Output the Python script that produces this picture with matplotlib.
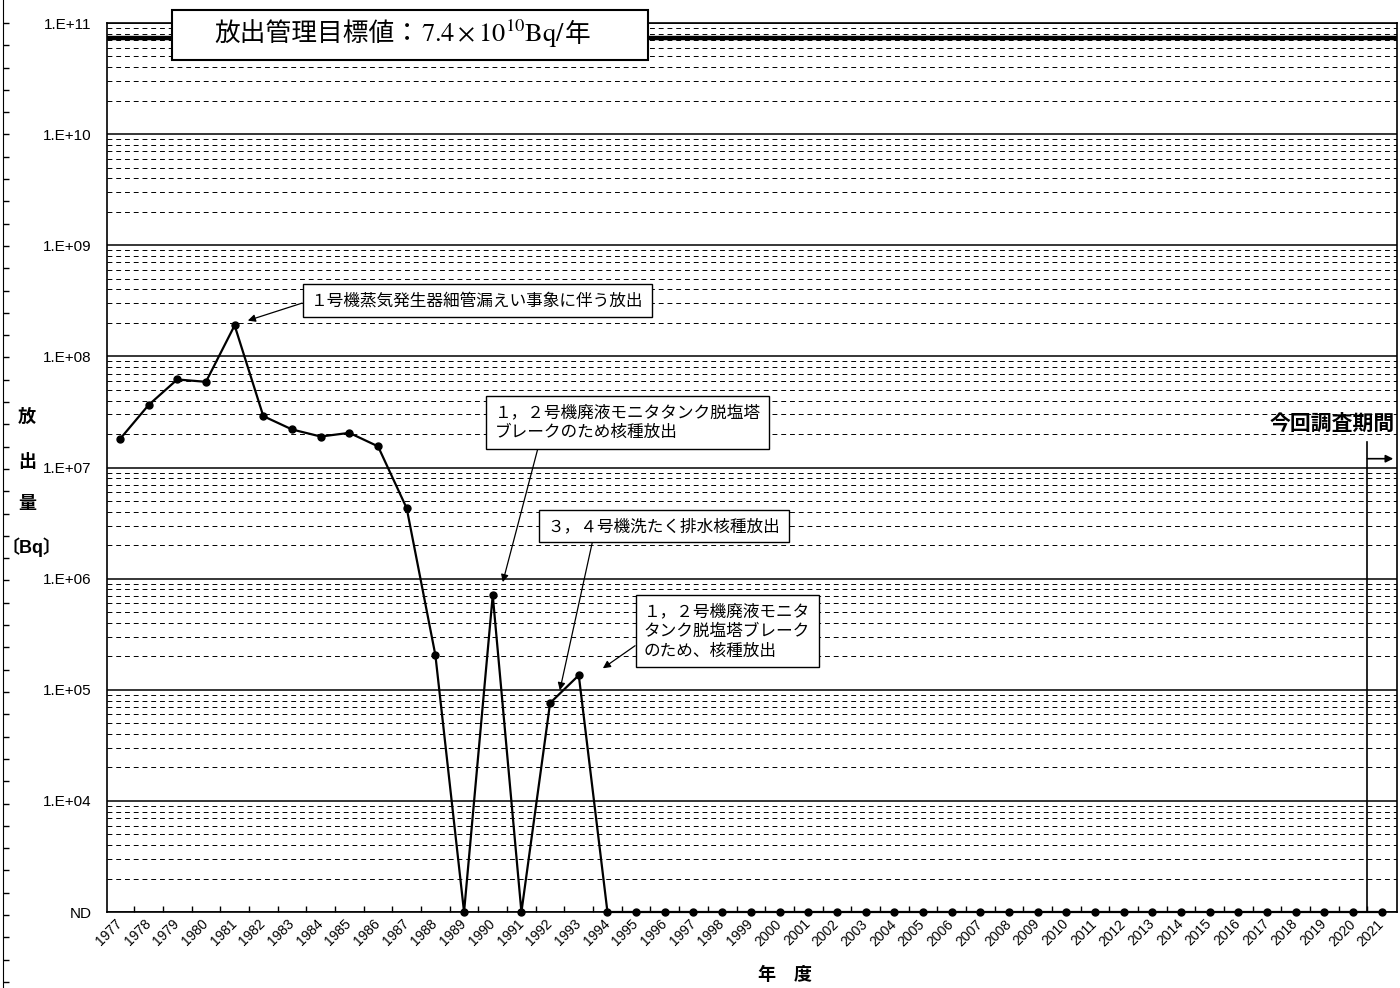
import numpy as np
import matplotlib
matplotlib.use("Agg")
import matplotlib.pyplot as plt
from matplotlib.patches import Rectangle
from matplotlib.ticker import FixedLocator, NullFormatter

plt.rcParams['font.family'] = ['Liberation Sans', 'Noto Sans CJK JP']
plt.rcParams['mathtext.fontset'] = 'stix'

# 年度 and 放出量 [Bq]; None = ND (検出限界未満)
years = list(range(1977, 2022))
release_bq = [1.8e7, 3.65e7, 6.2e7, 5.9e7, 1.9e8, 2.9e7, 2.2e7, 1.9e7, 2.05e7,
              1.55e7, 4.3e6, 2.05e5, None, 7.1e5, None, 7.6e4, 1.35e5,
              None, None, None, None, None, None, None, None, None, None,
              None, None, None, None, None, None, None, None, None, None,
              None, None, None, None, None, None, None, None]
nd_level = 1e3
target_bq = 7.4e10
survey_start = 2020.5

ytick_vals = [1e3, 1e4, 1e5, 1e6, 1e7, 1e8, 1e9, 1e10, 1e11]
ytick_labels = ["ND", "1.E+04", "1.E+05", "1.E+06", "1.E+07",
                "1.E+08", "1.E+09", "1.E+10", "1.E+11"]

notes = [
    ("１号機蒸気発生器細管漏えい事象に伴う放出", (1989.46, 3.2e8), (1981.46, 2.1e8), (0.0, 0.5)),
    ("１，２号機廃液モニタタンク脱塩塔\nブレークのため核種放出", (1994.71, 2.56e7), (1990.35, 9.3e5), (0.17, 0.0)),
    ("３，４号機洗たく排水核種放出", (1995.97, 2.97e6), (1992.34, 9.9e4), (0.2, 0.0)),
    ("１，２号機廃液モニタ\nタンク脱塩塔ブレーク\nのため、核種放出", (1998.17, 3.37e5), (1993.84, 1.56e5), (0.0, 0.35)),
]

fig = plt.figure(figsize=(14, 9.88), dpi=100)
ax = fig.add_axes([107 / 1400, 1 - 912 / 988, 1290 / 1400, 889 / 988])

plot_vals = [v if v is not None else nd_level for v in release_bq]

ax.set_yscale('log')
ax.set_ylim(1e3, 1e11)
ax.set_xlim(1976.55, 2021.53)

# grid
ax.yaxis.set_major_locator(FixedLocator(ytick_vals))
ax.yaxis.set_minor_locator(FixedLocator(
    [m * 10.0 ** e for e in range(3, 11) for m in range(2, 10)]))
ax.yaxis.set_minor_formatter(NullFormatter())
ax.grid(True, which='major', axis='y', color='black', lw=1.1, ls='-')
ax.grid(True, which='minor', axis='y', color='black', lw=0.7, ls=(0, (5, 4)))
ax.set_axisbelow(True)
ax.set_yticklabels(ytick_labels, fontsize=11)
ax.tick_params(axis='y', which='both', length=0, pad=11)

ax.set_xticks(years)
ax.set_xticklabels([str(y) for y in years], rotation=45, ha='right', va='center',
                   rotation_mode='anchor', fontsize=10)
ax.xaxis.set_minor_locator(FixedLocator([y + 0.5 for y in years[:-1]]))
ax.tick_params(axis='x', which='major', length=0, pad=7)
ax.tick_params(axis='x', which='minor', direction='in', length=4, width=1)

for s in ax.spines.values():
    s.set_linewidth(1.2)

# target line
ax.axhline(target_bq, color='black', lw=3.2, zorder=3)

# data
ax.plot(years, plot_vals, color='black', lw=1.6, marker='o', ms=5,
        clip_on=False, zorder=5)

# title box
ax.add_patch(Rectangle((1978.8, 4.65e10), 16.6, 1.31e11 - 4.65e10,
                       facecolor='white', edgecolor='black', lw=1.5,
                       clip_on=False, zorder=6))
title_y = 6.7e10
t1 = ax.text(1980.3, title_y, "放出管理目標値：", ha='left', va='baseline',
             fontsize=18.5, zorder=7, clip_on=False)
fig.canvas.draw()
x_next = ax.transData.inverted().transform((t1.get_window_extent().x1, 0))[0]
t2 = ax.text(x_next, title_y, r"$7.4\times10^{10}\mathrm{Bq/}$", ha='left',
             va='baseline', fontsize=19, zorder=7, clip_on=False)
fig.canvas.draw()
x_next = ax.transData.inverted().transform((t2.get_window_extent().x1, 0))[0]
ax.text(x_next, title_y, "年", ha='left', va='baseline', fontsize=18.5, zorder=7,
        clip_on=False)

# annotations
for txt, tpos, tip, rel in notes:
    ax.annotate(txt, xy=tip, xytext=tpos, ha='center', va='center',
                multialignment='left', fontsize=12, linespacing=1.4, zorder=8,
                bbox=dict(boxstyle='square,pad=0.5', fc='white', ec='black', lw=1),
                arrowprops=dict(arrowstyle='-|>', color='black', lw=0.9,
                                mutation_scale=11, relpos=rel, shrinkA=0, shrinkB=0))

# survey period
ax.plot([survey_start, survey_start], [1.7e7, nd_level], color='black', lw=1.2, zorder=4)
ax.annotate('', xy=(2021.4, 1.2e7), xytext=(survey_start, 1.2e7),
            arrowprops=dict(arrowstyle='-|>', color='black', lw=1.2,
                            mutation_scale=11, shrinkA=0, shrinkB=0))
ax.text(2021.46, 2.45e7, "今回調査期間", ha='right', va='center', fontsize=15,
        fontweight='bold', zorder=8)

# axis labels
for ch, ypx, xpx in [("放", 417, 27), ("出", 462, 27), ("量", 505, 27), ("〔Bq〕", 547, 31)]:
    fig.text(xpx / 1400, 1 - ypx / 988, ch, ha='center', va='center', fontsize=13,
             fontweight='bold')
fig.text(785 / 1400, 1 - 975 / 988, "年　度", ha='center', va='center', fontsize=13,
         fontweight='bold')

# left-edge ruler line
edge = fig.add_axes([3 / 1400, 0, 0.0001, 1])
edge.set_ylim(988, 0)
edge.set_yticks(np.arange(23, 988, 22.3))
edge.set_yticklabels([])
edge.set_xticks([])
for k in ('top', 'bottom', 'right'):
    edge.spines[k].set_visible(False)
edge.tick_params(axis='y', direction='in', length=4, width=1)
edge.patch.set_alpha(0)

fig.savefig("out.png", dpi=100)
